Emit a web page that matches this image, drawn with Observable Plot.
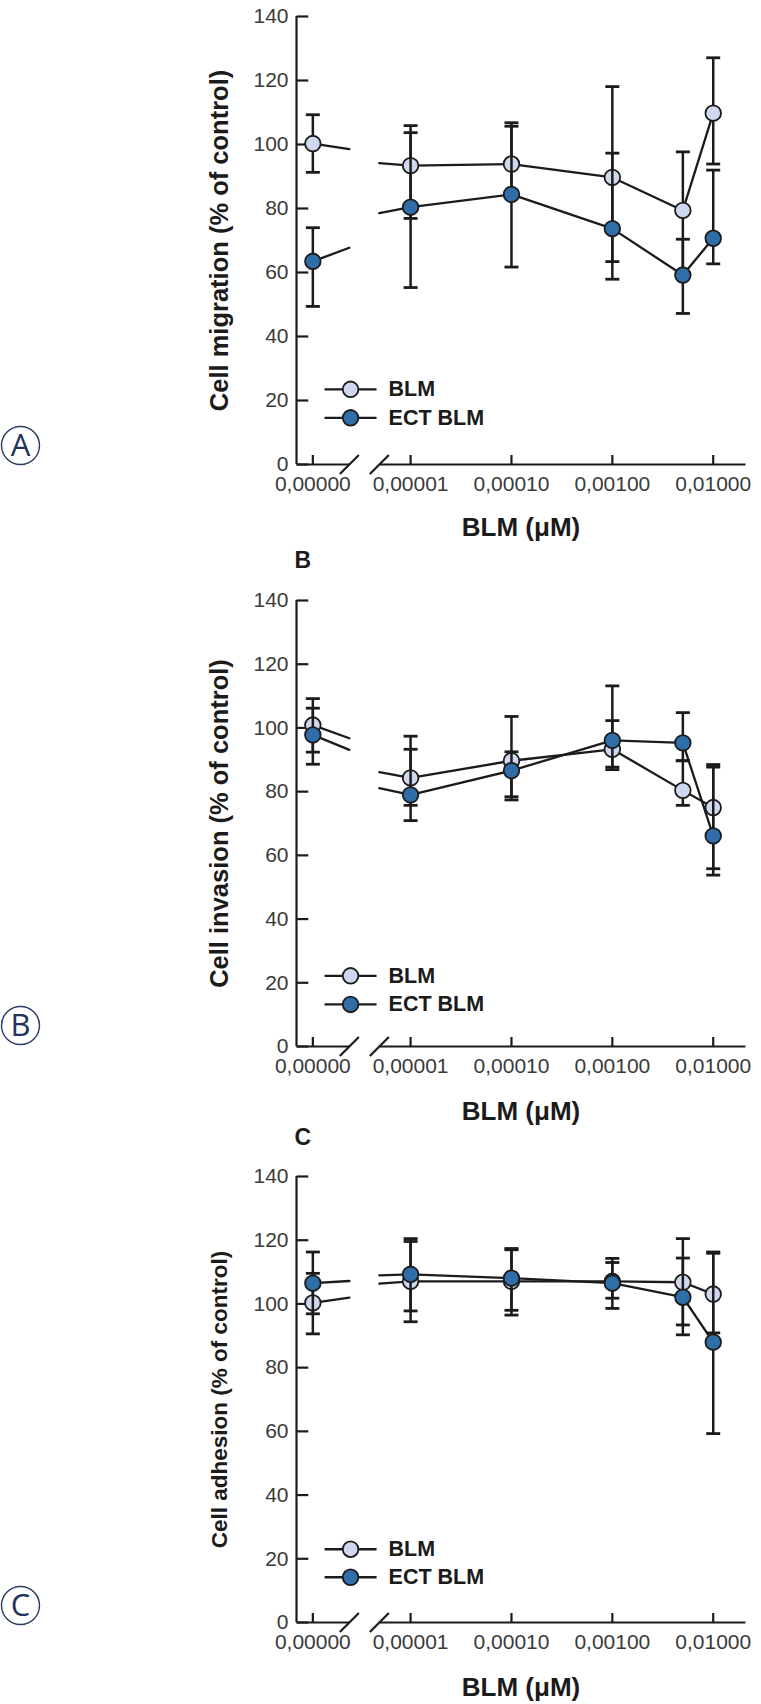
<!DOCTYPE html>
<html><head><meta charset="utf-8">
<script src="https://cdn.jsdelivr.net/npm/d3@7"></script>
<script src="https://cdn.jsdelivr.net/npm/@observablehq/plot@0.6"></script>
<style>
body{margin:0;background:#fff;}
#fig{width:761px;height:1704px;overflow:hidden;}
#fig svg{display:block;}
</style></head><body><div id="fig"></div>
<script>
// ---------- data ----------
const doses = [0, 0.00001, 0.0001, 0.001, 0.005, 0.01];
const tickDoses = [0, 0.00001, 0.0001, 0.001, 0.01];
const tickLabels = ["0,00000", "0,00001", "0,00010", "0,00100", "0,01000"];
const yTicks = [0, 20, 40, 60, 80, 100, 120, 140];
const seriesNames = ["BLM", "ECT BLM"];
const xTitle = "BLM (μM)";

// A: migration
const migBLM   = [100.3, 93.4, 93.9, 89.7, 79.4, 109.8];
const migBLMHi = [109.3, 103.7, 105.7, 118.1, 97.7, 127.1];
const migBLMLo = [91.3, 76.9, 84.5, 63.4, 60.0, 93.9];
const migECT   = [63.5, 80.4, 84.4, 73.7, 59.2, 70.7];
const migECTHi = [74.0, 105.9, 106.8, 97.3, 70.4, 92.0];
const migECTLo = [49.4, 55.3, 61.7, 57.9, 47.2, 62.7];

// B: invasion
const invBLM   = [100.9, 84.3, 89.7, 93.3, 80.4, 75.0];
const invBLMHi = [109.2, 93.3, 103.6, 102.3, 89.7, 88.5];
const invBLMLo = [92.4, 75.7, 78.4, 86.9, 75.7, 55.8];
const invECT   = [97.8, 79.0, 86.6, 96.1, 95.3, 66.1];
const invECTHi = [106.2, 97.4, 92.5, 113.2, 104.8, 87.7];
const invECTLo = [88.6, 70.9, 77.4, 87.7, 89.7, 53.8];

// C: adhesion
const adhBLM   = [100.3, 107.1, 107.1, 107.1, 106.8, 103.1];
const adhBLMHi = [109.6, 119.6, 117.4, 114.3, 120.5, 116.3];
const adhBLMLo = [90.6, 94.4, 96.5, 98.6, 93.4, 90.9];
const adhECT   = [106.5, 109.3, 108.1, 106.5, 102.1, 88.0];
const adhECTHi = [116.3, 120.5, 117.0, 113.0, 114.4, 115.9];
const adhECTLo = [96.9, 97.8, 98.0, 101.8, 90.3, 59.3];

// ---------- scale layout (log10 dose units, with broken axis) ----------
const XMIN = -6.131, XMAX = -1.68;
const ZERO_POS = -5.969, BREAK_START = -5.607, BREAK_END = -5.31;
const F1 = 0.25, F2 = 0.89; // fraction of the 0 -> 1e-5 segment at each side of the break
const pos = d => d === 0 ? ZERO_POS : Math.log10(d);
const labelMap = new Map(tickDoses.map((d, i) => [pos(d), tickLabels[i]]));

const INK = "#1b1b1b";
const FILLS = ["#cfd8ee", "#2f6ea8"];
const FONT = "'Liberation Sans', Arial, Helvetica, sans-serif";

const sym = draw => ({draw});
const xTickSym = sym(c => { c.moveTo(0, 0); c.lineTo(0, -9.5); });
const yTickSym = sym(c => { c.moveTo(0, 0); c.lineTo(11.8, 0); });
const capSym = sym(c => { c.moveTo(-7, 0); c.lineTo(7, 0); });
const slashSym = sym(c => { c.moveTo(-9.5, 9.5); c.lineTo(9.5, -9.5); });
const legLineSym = sym(c => { c.moveTo(-26, 0); c.lineTo(26, 0); });

function seriesMarks(v, hi, lo, fill) {
  const pts = doses.map((d, i) => ({x: pos(d), y: v[i], hi: hi[i], lo: lo[i]}));
  const seg1 = [{x: pos(doses[0]), y: v[0]}, {x: BREAK_START, y: v[0] + F1 * (v[1] - v[0])}];
  const seg2 = [{x: BREAK_END, y: v[0] + F2 * (v[1] - v[0])}, ...pts.slice(1)];
  return [
    Plot.line(seg1, {x: "x", y: "y", stroke: INK, strokeWidth: 2.3}),
    Plot.line(seg2, {x: "x", y: "y", stroke: INK, strokeWidth: 2.3}),
    Plot.ruleX(pts, {x: "x", y1: "lo", y2: "hi", stroke: INK, strokeWidth: 2.5}),
    Plot.dot(pts, {x: "x", y: "hi", symbol: capSym, stroke: INK, strokeWidth: 2.8, fill: "none"}),
    Plot.dot(pts, {x: "x", y: "lo", symbol: capSym, stroke: INK, strokeWidth: 2.8, fill: "none"}),
    Plot.dot(pts, {x: "x", y: "y", r: 7.8, fill, stroke: INK, strokeWidth: 1.8})
  ];
}

function panel(cfg) {
  const legendX = -5.595;
  const marks = [
    // axes
    Plot.ruleX([XMIN], {x: d => d, y1: 0, y2: 140, stroke: INK, strokeWidth: 2.2}),
    Plot.link([[XMIN, BREAK_START], [BREAK_END, XMAX]], {x1: d => d[0], x2: d => d[1], y1: 0, y2: 0, stroke: INK, strokeWidth: 2.2}),
    Plot.dot(yTicks, {x: XMIN, y: d => d, symbol: yTickSym, stroke: INK, strokeWidth: 2.2, fill: "none"}),
    Plot.dot(tickDoses, {x: d => pos(d), y: 0, symbol: xTickSym, stroke: INK, strokeWidth: 2.2, fill: "none"}),
    Plot.dot([BREAK_START, BREAK_END], {x: d => d, y: 0, symbol: slashSym, stroke: INK, strokeWidth: 2.2, fill: "none"}),
    Plot.axisX({ticks: tickDoses.map(pos), tickFormat: d => labelMap.get(d), tickSize: 0, tickPadding: 12, fontSize: 21, fill: "#3a3a3a", label: null}),
    Plot.axisY({ticks: yTicks, tickSize: 0, tickPadding: 8, fontSize: 21, fill: "#3a3a3a", label: null}),
    // titles
    Plot.text([xTitle], {text: d => d, frameAnchor: "bottom", dy: cfg.xTitleDy, fontSize: 26, fontWeight: "bold", lineAnchor: "middle", fill: INK}),
    Plot.text([cfg.title], {text: d => d, frameAnchor: "left", rotate: -90, dx: -77, fontSize: cfg.titleSize, fontWeight: "bold", lineAnchor: "middle", textAnchor: "middle", fill: INK}),
    // series
    ...seriesMarks(cfg.blm, cfg.blmHi, cfg.blmLo, FILLS[0]),
    ...seriesMarks(cfg.ect, cfg.ectHi, cfg.ectLo, FILLS[1]),
    // legend
    Plot.dot(seriesNames, {x: legendX, y: (d, i) => cfg.legendY[i], symbol: legLineSym, stroke: INK, strokeWidth: 2.3, fill: "none"}),
    Plot.dot(seriesNames, {x: legendX, y: (d, i) => cfg.legendY[i], r: 7.8, fill: (d, i) => FILLS[i], stroke: INK, strokeWidth: 1.8}),
    Plot.text(seriesNames, {x: legendX, y: (d, i) => cfg.legendY[i], text: d => d, dx: 38, textAnchor: "start", fontSize: 21.5, fontWeight: "bold", fill: INK}),
    // circled panel mark
    Plot.dot([cfg.circled], {frameAnchor: "bottom-left", dx: -276, dy: cfg.circleDy, r: 19, fill: "none", stroke: "#2a3a62", strokeWidth: 1.4}),
    Plot.text([cfg.circled], {text: d => d, frameAnchor: "bottom-left", dx: -276, dy: cfg.circleDy + 1, fontSize: 31, fontFamily: "'Open Sans', 'Noto Sans', sans-serif", fill: "#22345c", lineAnchor: "middle", textAnchor: "middle"})
  ];
  if (cfg.letter) {
    marks.push(Plot.text([cfg.letter], {text: d => d, frameAnchor: "top-left", dx: -2, dy: cfg.letterDy, textAnchor: "start", lineAnchor: "middle", fontSize: 23, fontWeight: "bold", fill: INK}));
  }
  return Plot.plot({
    width: 761, height: cfg.height,
    marginLeft: 296, marginRight: 16, marginTop: cfg.marginTop, marginBottom: cfg.marginBottom,
    x: {type: "linear", domain: [XMIN, XMAX]},
    y: {type: "linear", domain: [0, 140]},
    style: {fontFamily: FONT, background: "#fff", color: INK, overflow: "visible"},
    marks
  });
}

const fig = document.getElementById("fig");
fig.append(panel({
  title: "Cell migration (% of control)", titleSize: 25.5, circled: "A", letter: null,
  blm: migBLM, blmHi: migBLMHi, blmLo: migBLMLo, ect: migECT, ectHi: migECTHi, ectLo: migECTLo,
  height: 545, marginTop: 16, marginBottom: 81, xTitleDy: 63, legendY: [23.5, 14.6], circleDy: -19
}));
fig.append(panel({
  title: "Cell invasion (% of control)", titleSize: 25.5, circled: "B", letter: "B",
  blm: invBLM, blmHi: invBLMHi, blmLo: invBLMLo, ect: invECT, ectHi: invECTHi, ectLo: invECTLo,
  height: 580, marginTop: 55, marginBottom: 79, xTitleDy: 65, legendY: [22.2, 13.2], circleDy: -21, letterDy: -40
}));
fig.append(panel({
  title: "Cell adhesion (% of control)", titleSize: 22.5, circled: "C", letter: "C",
  blm: adhBLM, blmHi: adhBLMHi, blmLo: adhBLMLo, ect: adhECT, ectHi: adhECTHi, ectLo: adhECTLo,
  height: 579, marginTop: 51, marginBottom: 82, xTitleDy: 65, legendY: [23, 14.2], circleDy: -17, letterDy: -38.6
}));
</script></body></html>
